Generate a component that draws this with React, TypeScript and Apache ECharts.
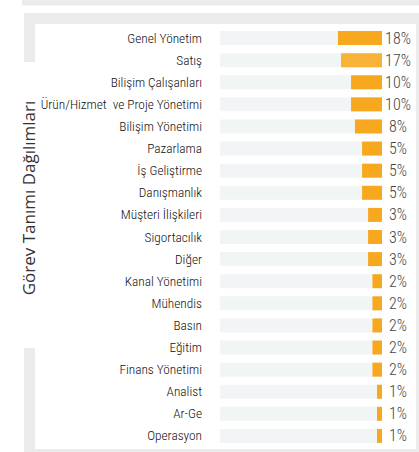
import React, { useEffect, useRef } from "react";
import * as echarts from "echarts";

const categories = [
  "Genel Yönetim",
  "Satış",
  "Bilişim Çalışanları",
  "Ürün/Hizmet  ve Proje Yönetimi",
  "Bilişim Yönetimi",
  "Pazarlama",
  "İş Geliştirme",
  "Danışmanlık",
  "Müşteri İlişkileri",
  "Sigortacılık",
  "Diğer",
  "Kanal Yönetimi",
  "Mühendis",
  "Basın",
  "Eğitim",
  "Finans Yönetimi",
  "Analist",
  "Ar-Ge",
  "Operasyon",
];

// displayed percentages
const percents = [18, 17, 10, 10, 8, 5, 5, 5, 3, 3, 3, 2, 2, 2, 2, 2, 1, 1, 1];

// bar length as share of the track (0-100)
const barLengths = [27.2, 25.3, 19.1, 19.1, 16.7, 12.3, 12.3, 12.3, 8.6, 8.6, 8.6, 5.9, 5.9, 5.9, 5.9, 5.9, 3.1, 3.1, 3.1];

const highlighted = "Satış";

const TITLE = "Görev Tanımı Dağılımları";

export default function App() {
  const ref = useRef<HTMLDivElement>(null);

  useEffect(() => {
    if (!ref.current) return;
    const chart = echarts.init(ref.current, undefined, { renderer: "svg" });
    const labelFont = "'Roboto Condensed', 'Liberation Sans Narrow', sans-serif";
    chart.setOption({
      animation: false,
      backgroundColor: "#ffffff",
      graphic: [
        { type: "rect", z: -10, shape: { x: 22, y: 0, width: 397, height: 5.5 }, style: { fill: "#ebebeb" } },
        { type: "rect", z: -10, shape: { x: 24, y: 13, width: 395, height: 439 }, style: { fill: "#ebebeb" } },
        { type: "rect", z: -9, shape: { x: 35, y: 24, width: 381, height: 425 }, style: { fill: "#ffffff" } },
        { type: "rect", z: -9, shape: { x: 20, y: 62, width: 15, height: 286 }, style: { fill: "#ffffff" } },
        {
          type: "text",
          z: 5,
          x: 28,
          y: 198,
          rotation: Math.PI / 2,
          style: {
            text: TITLE,
            fill: "#333333",
            font: "17px 'Open Sans', 'Noto Sans', sans-serif",
            textAlign: "center",
            textVerticalAlign: "middle",
          },
        },
      ],
      grid: { left: 220, right: 37, top: 27, height: 420, containLabel: false },
      xAxis: {
        type: "value",
        inverse: true,
        min: 0,
        max: 100,
        show: false,
      },
      yAxis: [
        {
          type: "category",
          inverse: true,
          data: categories,
          axisLine: { show: false },
          axisTick: { show: false },
          splitLine: { show: false },
          axisLabel: {
            margin: 18,
            color: "#111111",
            fontSize: 13.3,
            fontWeight: 300,
            fontFamily: labelFont,
          },
        },
        {
          type: "category",
          inverse: true,
          position: "right",
          data: percents.map((p) => p + "%"),
          axisLine: { show: false },
          axisTick: { show: false },
          splitLine: { show: false },
          axisLabel: {
            margin: 16,
            align: "center",
            color: "#444444",
            fontSize: 16,
            fontWeight: 300,
            fontFamily: labelFont,
          },
        },
      ],
      series: [
        {
          type: "bar",
          yAxisIndex: 0,
          barWidth: 14,
          showBackground: true,
          backgroundStyle: { color: "#f2f5f6" },
          itemStyle: { color: "#f7a81f" },
          data: barLengths.map((v, i) =>
            categories[i] === highlighted
              ? { value: v, itemStyle: { color: "#f7b237" } }
              : v
          ),
        },
      ],
    });
    return () => chart.dispose();
  }, []);

  return (
    <div
      ref={ref}
      style={{ position: "fixed", left: 0, top: 0, width: 419, height: 452 }}
    />
  );
}
